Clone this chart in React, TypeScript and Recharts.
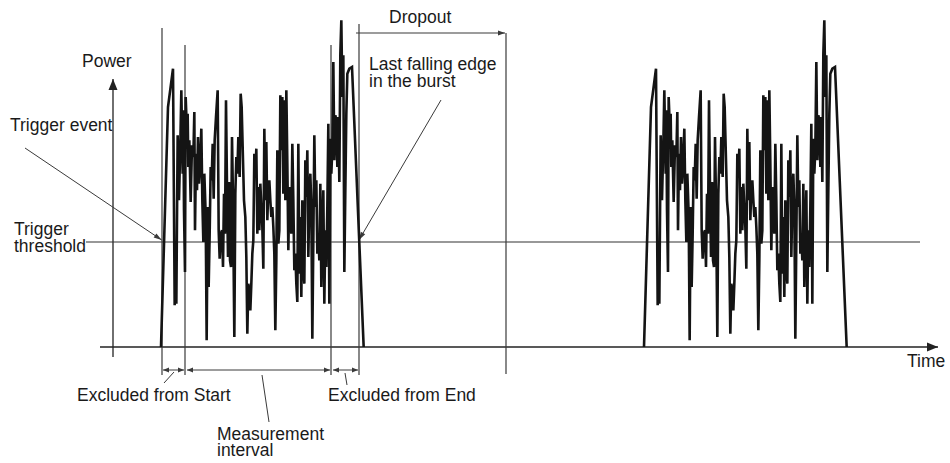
import React from 'react';
import { LineChart, Line, XAxis, YAxis, ReferenceLine, ReferenceDot } from 'recharts';

// Units: time and power are in "sample" units (3 units = 1 px on the reference drawing)
const burstStarts = [483, 1932];

const shapeTime = [
  0, 21, 36, 41, 44, 46, 50, 54, 58, 61, 65, 67, 69, 72, 74, 77, 80, 82, 85, 89,
  93, 97, 100, 102, 105, 108, 111, 114, 117, 121, 124, 127, 130, 134, 137, 140, 143, 146, 149, 152,
  155, 158, 161, 165, 170, 173, 176, 179, 183, 186, 189, 192, 195, 198, 201, 204, 207, 210, 213, 216,
  220, 223, 226, 229, 232, 234, 236, 239, 242, 245, 249, 253, 256, 259, 262, 265, 268, 271, 274, 277,
  280, 283, 286, 289, 292, 295, 298, 301, 304, 307, 310, 313, 316, 319, 322, 325, 328, 331, 334, 337,
  340, 343, 346, 349, 352, 355, 358, 361, 364, 367, 370, 373, 376, 379, 382, 385, 388, 391, 394, 397,
  400, 403, 406, 409, 412, 415, 418, 421, 424, 427, 430, 433, 436, 439, 442, 445, 448, 451, 454, 457,
  460, 463, 466, 469, 472, 475, 478, 481, 484, 487, 490, 493, 496, 499, 502, 505, 508, 511, 514, 517,
  520, 523, 526, 529, 532, 535, 538, 541, 544, 547, 550, 553, 556, 559, 565, 573, 608,
];

const shapePower = [
  0, 720, 835, 125, 250, 130, 635, 440, 610, 770, 520, 710, 410, 225, 750, 670, 700, 540, 620, 435,
  605, 570, 705, 350, 580, 470, 630, 490, 540, 655, 440, 315, 520, 400, 20, 420, 180, 340, 540, 500,
  610, 445, 620, 690, 770, 350, 265, 340, 350, 240, 460, 340, 740, 480, 270, 495, 260, 240, 630, 440,
  30, 460, 570, 520, 630, 570, 510, 760, 720, 600, 440, 390, 270, 40, 190, 170, 110, 190, 280, 320,
  580, 520, 595, 340, 480, 350, 490, 420, 360, 235, 655, 440, 615, 380, 480, 500, 440, 390, 420, 360,
  280, 50, 260, 590, 310, 350, 755, 590, 750, 460, 740, 440, 770, 550, 290, 480, 390, 340, 610, 440,
  230, 280, 190, 135, 610, 220, 390, 150, 440, 240, 190, 560, 450, 590, 270, 440, 520, 420, 25, 320,
  635, 420, 500, 280, 340, 260, 490, 180, 340, 470, 130, 350, 240, 420, 670, 130, 625, 520, 595, 855,
  560, 695, 680, 540, 690, 495, 880, 980, 750, 875, 225, 470, 700, 820, 835, 840, 0,
];

const thresholdPower = 315;

type Pt = [number, number];
type Seg = { from: Pt; to: Pt; headStart?: boolean; headEnd?: boolean; len?: number; wid?: number; color?: string; width?: number };

const axisSegments: Seg[] = [
  { from: [300, 0], to: [2814, 0], headEnd: true, len: 11, wid: 9, color: '#222', width: 1.3 },
  { from: [339, -30], to: [339, 804], headEnd: true, len: 11, wid: 9, color: '#222', width: 1.3 },
  { from: [258, thresholdPower], to: [2760, thresholdPower], color: '#333', width: 1.2 },
];

const markerSegments: Seg[] = [
  { from: [486, -84], to: [486, 957] },
  { from: [555, -84], to: [555, 906] },
  { from: [993, -84], to: [993, 906] },
  { from: [1077, -84], to: [1077, 969] },
  { from: [1518, -81], to: [1518, 942] },
];

const pointerSegments: Seg[] = [
  { from: [75, 597], to: [485, 321], headEnd: true, len: 8, wid: 5, width: 1 },
  { from: [1323, 741], to: [1077, 321], headEnd: true, len: 8, wid: 5, width: 1 },
  { from: [1068, 942], to: [1515, 942], headEnd: true, len: 7, wid: 5, width: 1.2 },
  { from: [489, -69], to: [552, -69], headStart: true, headEnd: true, len: 6, wid: 5, width: 1 },
  { from: [561, -69], to: [990, -69], headStart: true, headEnd: true, len: 6, wid: 5, width: 1 },
  { from: [999, -69], to: [1074, -69], headStart: true, headEnd: true, len: 6, wid: 5, width: 1 },
  { from: [522, -75], to: [492, -108], width: 1 },
  { from: [786, -84], to: [807, -225], width: 1 },
  { from: [1035, -78], to: [1041, -114], width: 1 },
];

type Lbl = { text: string; t: number; p: number; anchor?: 'start' | 'middle' | 'end' };
const labels: Lbl[] = [
  { text: 'Power', t: 246, p: 840 },
  { text: 'Trigger event', t: 30, p: 648 },
  { text: 'Trigger', t: 42, p: 336 },
  { text: 'threshold', t: 42, p: 285 },
  { text: 'Dropout', t: 1167, p: 972 },
  { text: 'Last falling edge', t: 1107, p: 831 },
  { text: 'in the burst', t: 1107, p: 780 },
  { text: 'Excluded from Start', t: 231, p: -162 },
  { text: 'Measurement', t: 651, p: -279 },
  { text: 'interval', t: 651, p: -327 },
  { text: 'Excluded from End', t: 984, p: -162 },
  { text: 'Time', t: 2721, p: -60 },
];

const bursts = burstStarts.map((s) => shapeTime.map((t, i) => ({ t: s + t, p: shapePower[i] })));

function head(tipX: number, tipY: number, fromX: number, fromY: number, len: number, wid: number) {
  const a = Math.atan2(tipY - fromY, tipX - fromX);
  const bx = tipX - len * Math.cos(a);
  const by = tipY - len * Math.sin(a);
  const nx = -Math.sin(a) * (wid / 2);
  const ny = Math.cos(a) * (wid / 2);
  return `${tipX},${tipY} ${bx + nx},${by + ny} ${bx - nx},${by - ny}`;
}

function renderSeg(seg: Seg) {
  return (props: any) => {
    const { x1, y1, x2, y2 } = props;
    const color = seg.color || '#3a3a3a';
    const len = seg.len || 6;
    const wid = seg.wid || 5;
    return (
      <g>
        <line x1={x1} y1={y1} x2={x2} y2={y2} stroke={color} strokeWidth={seg.width || 1.2} />
        {seg.headEnd && <polygon points={head(x2, y2, x1, y1, len, wid)} fill={color} />}
        {seg.headStart && <polygon points={head(x1, y1, x2, y2, len, wid)} fill={color} />}
      </g>
    );
  };
}

export default function App() {
  const allSegs = [...axisSegments, ...markerSegments, ...pointerSegments];
  return (
    <div style={{ width: 950, height: 463, background: '#fff' }}>
      <style>{'body{margin:0;background:#fff}'}</style>
      <LineChart width={950} height={463} margin={{ top: 0, right: 0, bottom: 0, left: 0 }}>
        <XAxis type="number" dataKey="t" domain={[0, 2850]} hide allowDataOverflow />
        <YAxis type="number" domain={[-348, 1041]} hide allowDataOverflow />
        {allSegs.map((s, i) => (
          <ReferenceLine
            key={'s' + i}
            segment={[{ x: s.from[0], y: s.from[1] }, { x: s.to[0], y: s.to[1] }]}
            ifOverflow="visible"
            shape={renderSeg(s)}
          />
        ))}
        {bursts.map((d, i) => (
          <Line
            key={'b' + i}
            data={d}
            dataKey="p"
            type="linear"
            stroke="#141414"
            strokeWidth={2.6}
            dot={false}
            activeDot={false}
            isAnimationActive={false}
          />
        ))}
        {labels.map((l, i) => (
          <ReferenceDot
            key={'l' + i}
            x={l.t}
            y={l.p}
            r={0}
            ifOverflow="visible"
            shape={(props: any) => (
              <text
                x={props.cx}
                y={props.cy}
                textAnchor={l.anchor || 'start'}
                fontFamily="'Liberation Sans', Arial, sans-serif"
                fontSize={17.5}
                fill="#1a1a1a"
              >
                {l.text}
              </text>
            )}
          />
        ))}
      </LineChart>
    </div>
  );
}
